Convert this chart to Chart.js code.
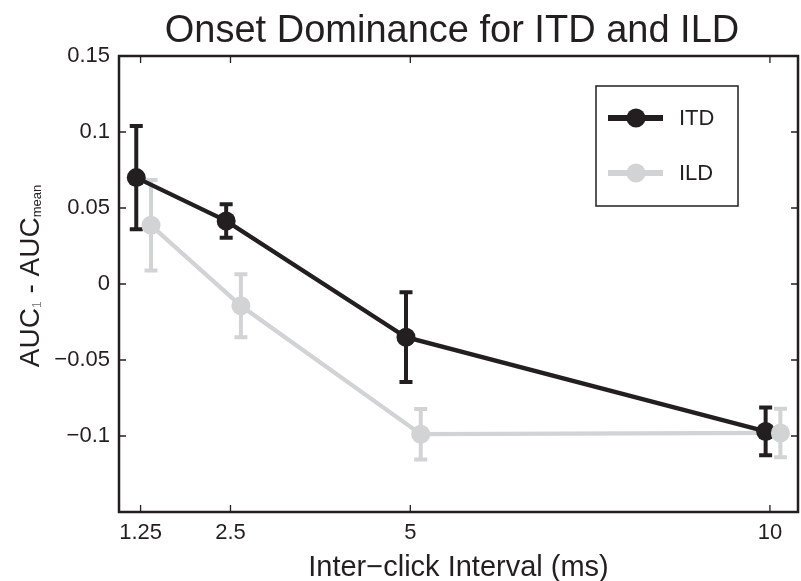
<!DOCTYPE html>
<html>
<head>
<meta charset="utf-8">
<script src="https://cdn.jsdelivr.net/npm/chart.js@4.4.1/dist/chart.umd.min.js"></script>
<style>body{margin:0;background:#fff}</style>
</head>
<body>
<canvas id="onset-chart" width="801" height="581"></canvas>
<script>
// inter-click intervals (ms) and the two cue types
const intervals = [1.25, 2.5, 5, 10];
const itdMean = [0.070, 0.0415, -0.035, -0.097];
const itdErr = [0.034, 0.011, 0.0295, 0.0157];
const ildMean = [0.0386, -0.0143, -0.0988, -0.098];
const ildErr = [0.0298, 0.0207, 0.0166, 0.016];
// small horizontal jitter so the bars do not overlap
const itdShift = -0.06;
const ildShift = 0.145;
const yTicks = [-0.1, -0.05, 0, 0.05, 0.1, 0.15];
const yTickLabels = ['\u22120.1', '\u22120.05', '0', '0.05', '0.1', '0.15'];
const xTickLabels = ['1.25', '2.5', '5', '10'];

const ink = '#231f20';
const pale = '#d1d3d4';
const FONT = '"Liberation Sans", Arial, Helvetica, sans-serif';

function points(means, shift) {
  return intervals.map((v, i) => ({x: v + shift, y: means[i]}));
}

const decor = {
  id: 'decor',
  beforeDatasetDraw(chart, args) {
    const ds = chart.data.datasets[args.index];
    if (!ds.errors) return;
    const {ctx, scales: {x, y}} = chart;
    ctx.save();
    ctx.strokeStyle = ds.borderColor;
    ctx.lineWidth = 4;
    ds.data.forEach((p, i) => {
      const px = x.getPixelForValue(p.x);
      const top = y.getPixelForValue(p.y + ds.errors[i]);
      const bot = y.getPixelForValue(p.y - ds.errors[i]);
      ctx.beginPath();
      ctx.moveTo(px, top); ctx.lineTo(px, bot);
      ctx.moveTo(px - 6.5, top); ctx.lineTo(px + 6.5, top);
      ctx.moveTo(px - 6.5, bot); ctx.lineTo(px + 6.5, bot);
      ctx.stroke();
    });
    ctx.restore();
  },
  afterDraw(chart) {
    const {ctx, chartArea: a, scales: {x, y}} = chart;
    ctx.save();
    // box and inward ticks
    ctx.strokeStyle = ink;
    ctx.lineWidth = 2.5;
    ctx.strokeRect(a.left, a.top, a.right - a.left, a.bottom - a.top);
    ctx.lineWidth = 1.3;
    ctx.beginPath();
    intervals.forEach(v => {
      const px = x.getPixelForValue(v);
      ctx.moveTo(px, a.bottom); ctx.lineTo(px, a.bottom - 7);
      ctx.moveTo(px, a.top); ctx.lineTo(px, a.top + 7);
    });
    yTicks.forEach(v => {
      const py = y.getPixelForValue(v);
      ctx.moveTo(a.left, py); ctx.lineTo(a.left + 7, py);
      ctx.moveTo(a.right, py); ctx.lineTo(a.right - 7, py);
    });
    ctx.stroke();

    // titles
    ctx.fillStyle = ink;
    ctx.textAlign = 'center';
    ctx.textBaseline = 'alphabetic';
    ctx.font = '38px ' + FONT;
    ctx.fillText('Onset Dominance for ITD and ILD', 452, 42);
    ctx.font = '29px ' + FONT;
    ctx.fillText('Inter\u2212click Interval (ms)', (a.left + a.right) / 2, 576);

    // y title with subscripts
    const parts = [['AUC', 28, 0, ink], ['1', 12, 2, '#8a8a8a'], [' - AUC', 28, 0, ink], ['mean', 13, 2, ink]];
    let total = 0;
    parts.forEach(p => { ctx.font = p[1] + 'px ' + FONT; total += ctx.measureText(p[0]).width; });
    ctx.translate(39, 276);
    ctx.rotate(-Math.PI / 2);
    ctx.textAlign = 'left';
    let cx = -total / 2;
    parts.forEach(p => {
      ctx.font = p[1] + 'px ' + FONT;
      ctx.fillStyle = p[3];
      ctx.fillText(p[0], cx, p[2]);
      cx += ctx.measureText(p[0]).width;
    });
    ctx.setTransform(1, 0, 0, 1, 0, 0);

    // legend
    const lx = a.right - 202, ly = a.top + 30;
    ctx.lineWidth = 1.5;
    ctx.strokeStyle = ink;
    ctx.strokeRect(lx, ly, 142, 120);
    [['ITD', ink, 32], ['ILD', pale, 87]].forEach(([label, col, dy]) => {
      ctx.strokeStyle = col;
      ctx.fillStyle = col;
      ctx.lineWidth = 6;
      ctx.beginPath();
      ctx.moveTo(lx + 12, ly + dy); ctx.lineTo(lx + 67, ly + dy);
      ctx.stroke();
      ctx.beginPath();
      ctx.arc(lx + 40, ly + dy, 9.5, 0, Math.PI * 2);
      ctx.fill();
      ctx.fillStyle = ink;
      ctx.font = '22px ' + FONT;
      ctx.textBaseline = 'middle';
      ctx.fillText(label, lx + 83, ly + dy + 1);
    });
    ctx.restore();
  }
};

new Chart(document.getElementById('onset-chart'), {
  type: 'scatter',
  data: {
    datasets: [
      // first dataset is drawn last (on top)
      {
        label: 'ILD',
        data: points(ildMean, ildShift),
        showLine: false,
        pointRadius: 9.5,
        pointHoverRadius: 9.5,
        pointBackgroundColor: pale,
        pointBorderWidth: 0,
        borderColor: pale
      },
      {
        label: 'ITD',
        data: points(itdMean, itdShift),
        errors: itdErr,
        showLine: true,
        borderColor: ink,
        borderWidth: 4.3,
        pointRadius: 9.5,
        pointHoverRadius: 9.5,
        pointBackgroundColor: ink,
        pointBorderWidth: 0
      },
      {
        label: 'ILD line',
        data: points(ildMean, ildShift),
        errors: ildErr,
        showLine: true,
        borderColor: pale,
        borderWidth: 4.3,
        pointRadius: 0
      }
    ]
  },
  options: {
    responsive: false,
    animation: false,
    layout: {autoPadding: false, padding: {top: 56, right: 3, left: 0, bottom: 0}},
    plugins: {legend: {display: false}, tooltip: {enabled: false}, title: {display: false}},
    scales: {
      x: {
        type: 'linear',
        min: 0.95,
        max: 10.39,
        grid: {display: false, drawTicks: false},
        border: {display: false},
        afterBuildTicks: s => { s.ticks = intervals.map(v => ({value: v})); },
        afterFit: s => { s.height = 69; s.paddingLeft = 0; s.paddingRight = 0; },
        ticks: {
          padding: 8,
          color: ink,
          font: {family: FONT, size: 22},
          maxRotation: 0,
          callback: (v) => xTickLabels[intervals.indexOf(v)]
        }
      },
      y: {
        min: -0.15,
        max: 0.15,
        grid: {display: false, drawTicks: false},
        border: {display: false},
        afterBuildTicks: s => { s.ticks = yTicks.map(v => ({value: v})); },
        afterFit: s => { s.width = 119; s.paddingTop = 0; s.paddingBottom = 0; },
        ticks: {
          padding: 9,
          color: ink,
          font: {family: FONT, size: 22},
          callback: (v) => {
            const i = yTicks.findIndex(t => Math.abs(t - v) < 1e-9);
            return i < 0 ? '' : yTickLabels[i];
          }
        }
      }
    }
  },
  plugins: [decor]
});
</script>
</body>
</html>
